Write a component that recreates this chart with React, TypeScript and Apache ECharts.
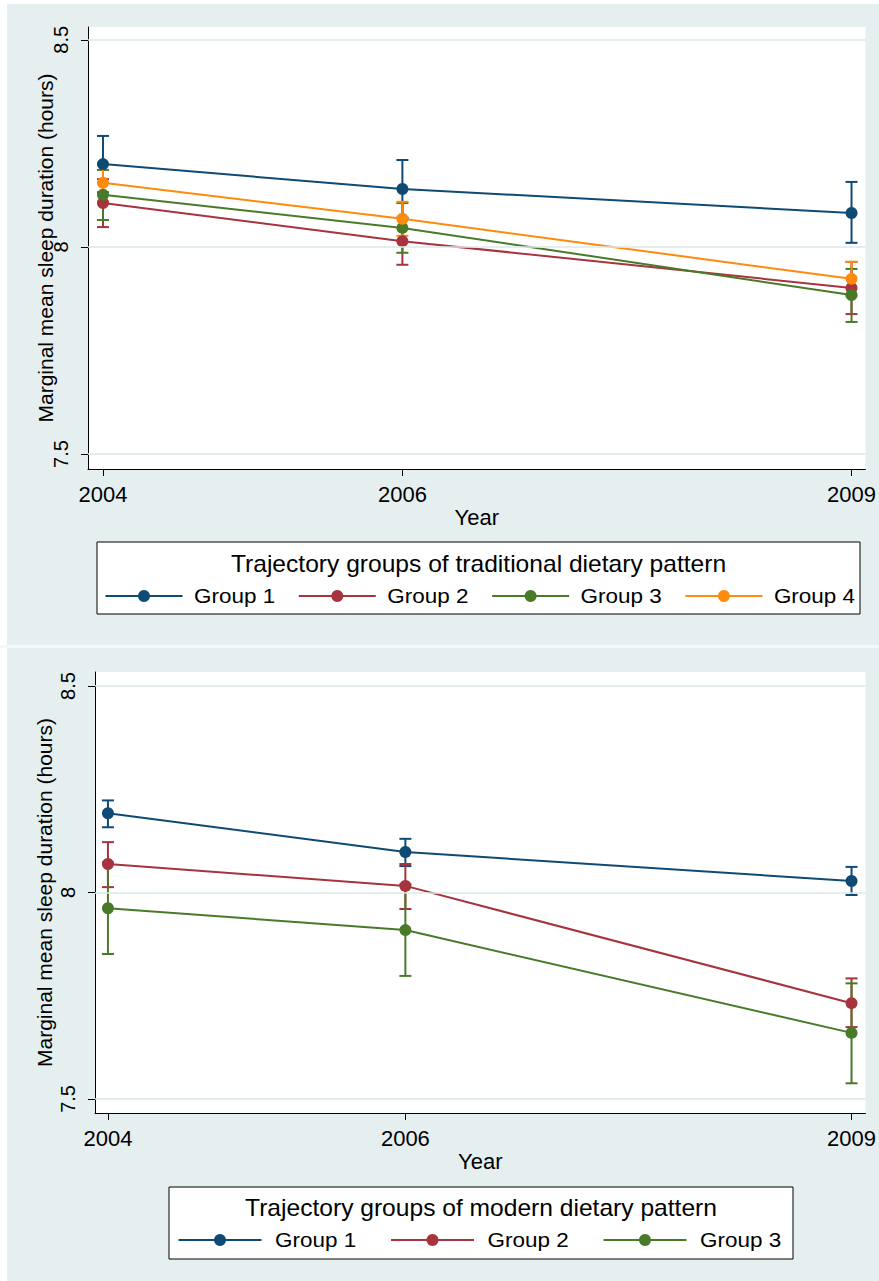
import React, { useEffect, useRef } from "react";
import * as echarts from "echarts";

// ---------- data ----------
const years = [2004, 2006, 2009];
const yTicks = [7.5, 8, 8.5];
const groupNames = ["Group 1", "Group 2", "Group 3", "Group 4"];
const groupColors = ["#0e4a74", "#a6333e", "#497a29", "#ff8a0c"];

// Panel 1: traditional dietary pattern
const tradTitle = "Trajectory groups of traditional dietary pattern";
const tradMean = [
  [8.2, 8.14, 8.082],
  [8.106, 8.014, 7.901],
  [8.126, 8.046, 7.884],
  [8.155, 8.068, 7.923],
];
const tradLower = [
  [8.132, 8.07, 8.01],
  [8.048, 7.957, 7.838],
  [8.065, 7.986, 7.819],
  [8.11, 8.027, 7.882],
];
const tradUpper = [
  [8.268, 8.21, 8.157],
  [8.164, 8.071, 7.964],
  [8.186, 8.106, 7.947],
  [8.2, 8.109, 7.964],
];

// Panel 2: modern dietary pattern
const modTitle = "Trajectory groups of modern dietary pattern";
const modMean = [
  [8.192, 8.098, 8.028],
  [8.069, 8.016, 7.732],
  [7.962, 7.909, 7.66],
];
const modLower = [
  [8.158, 8.064, 7.994],
  [8.013, 7.96, 7.674],
  [7.851, 7.798, 7.538],
];
const modUpper = [
  [8.223, 8.13, 8.062],
  [8.122, 8.069, 7.792],
  [8.073, 8.02, 7.78],
];

const yTitle = "Marginal mean sleep duration (hours)";
const xTitle = "Year";

// ---------- styles ----------
const FONT = "'Liberation Sans', Arial, Helvetica, sans-serif";
const PANEL_BG = "#e5efef";
const GRID_LINE = "#dde9e9";
const STRETCH = 1.07;

function buildAxes(gridIndex: number, xr: number[], yr: number[], yNameGap: number) {
  const x = {
    gridIndex,
    type: "value",
    min: xr[0],
    max: xr[1],
    axisLine: { show: true, onZero: false, lineStyle: { color: "#000", width: 1 } },
    axisTick: { show: true, length: 7, customValues: years, lineStyle: { color: "#000", width: 1 } },
    axisLabel: {
      customValues: years,
      margin: 14,
      fontSize: 22,
      color: "#000",
      fontFamily: FONT,
      formatter: (v: number) => String(v),
    },
    splitLine: { show: false },
    name: xTitle,
    nameLocation: "middle",
    nameGap: 37,
    nameMoveOverlap: false,
    nameTextStyle: { fontSize: 22, color: "#000", fontFamily: FONT },
  };
  const y = {
    gridIndex,
    type: "value",
    min: yr[0],
    max: yr[1],
    axisLine: { show: true, onZero: false, lineStyle: { color: "#000", width: 1 } },
    axisTick: { show: true, length: 7, customValues: yTicks, lineStyle: { color: "#000", width: 1 } },
    axisLabel: {
      customValues: yTicks,
      rotate: 90,
      margin: 17,
      fontSize: 20,
      color: "#000",
      fontFamily: FONT,
      formatter: (v: number) => String(v),
    },
    splitLine: { show: false },
    name: yTitle,
    nameLocation: "middle",
    nameRotate: 90,
    nameGap: yNameGap,
    nameMoveOverlap: false,
    nameTextStyle: { fontSize: 21, color: "#000", fontFamily: FONT },
  };
  return { x, y };
}

function buildSeries(gridIndex: number, mean: number[][], lower: number[][], upper: number[][]) {
  const series: any[] = [];
  // gridlines
  series.push({
    type: "line",
    xAxisIndex: gridIndex,
    yAxisIndex: gridIndex,
    data: [],
    z: 1,
    silent: true,
    markLine: {
      silent: true,
      symbol: ["none", "none"],
      label: { show: false },
      lineStyle: { color: GRID_LINE, width: 1.5, type: "solid" },
      data: yTicks.map((t) => ({ yAxis: t })),
    },
  });
  // confidence intervals
  mean.forEach((_, g) => {
    const color = groupColors[g];
    series.push({
      type: "custom",
      xAxisIndex: gridIndex,
      yAxisIndex: gridIndex,
      z: 2,
      encode: { x: 0, y: [1, 2] },
      data: years.map((yr, i) => [yr, lower[g][i], upper[g][i]]),
      renderItem: (params: any, api: any) => {
        const xv = api.value(0);
        const lo = api.coord([xv, api.value(1)]);
        const hi = api.coord([xv, api.value(2)]);
        const w = 6;
        const st = { stroke: color, lineWidth: 2 };
        return {
          type: "group",
          children: [
            { type: "line", shape: { x1: lo[0], y1: lo[1], x2: hi[0], y2: hi[1] }, style: st },
            { type: "line", shape: { x1: lo[0] - w, y1: lo[1], x2: lo[0] + w, y2: lo[1] }, style: st },
            { type: "line", shape: { x1: hi[0] - w, y1: hi[1], x2: hi[0] + w, y2: hi[1] }, style: st },
          ],
        };
      },
    });
  });
  // lines with markers
  mean.forEach((vals, g) => {
    series.push({
      type: "line",
      name: groupNames[g],
      xAxisIndex: gridIndex,
      yAxisIndex: gridIndex,
      z: 3,
      data: years.map((yr, i) => [yr, vals[i]]),
      symbol: "circle",
      symbolSize: 12,
      showSymbol: true,
      lineStyle: { color: groupColors[g], width: 2 },
      itemStyle: { color: groupColors[g] },
    });
  });
  return series;
}

function buildLegend(
  box: { x: number; y: number; w: number; h: number },
  title: string,
  titleY: number,
  itemY: number,
  n: number,
  firstMarker: number,
  step: number,
  halfLine: number,
  textOff: number
) {
  const els: any[] = [];
  els.push({
    type: "rect",
    shape: { x: box.x, y: box.y, width: box.w, height: box.h },
    style: { fill: "#fff", stroke: "#000", lineWidth: 1 },
    z: 10,
  });
  els.push({
    type: "text",
    x: box.x + box.w / 2,
    y: titleY,
    scaleX: STRETCH,
    style: {
      text: title,
      fontSize: 23,
      fontFamily: FONT,
      fill: "#000",
      align: "center",
      verticalAlign: "middle",
    },
    z: 11,
  });
  for (let g = 0; g < n; g++) {
    const cx = firstMarker + g * step;
    els.push({
      type: "line",
      shape: { x1: cx - halfLine, y1: itemY, x2: cx + halfLine, y2: itemY },
      style: { stroke: groupColors[g], lineWidth: 2 },
      z: 11,
    });
    els.push({
      type: "circle",
      shape: { cx, cy: itemY, r: 6 },
      style: { fill: groupColors[g] },
      z: 12,
    });
    els.push({
      type: "text",
      x: cx + textOff,
      y: itemY,
      scaleX: STRETCH,
      style: {
        text: groupNames[g],
        fontSize: 21,
        fontFamily: FONT,
        fill: "#000",
        align: "left",
        verticalAlign: "middle",
      },
      z: 11,
    });
  }
  return els;
}

export default function App() {
  const ref = useRef<HTMLDivElement>(null);
  useEffect(() => {
    if (!ref.current) return;
    const chart = echarts.init(ref.current, null, { renderer: "svg", width: 879, height: 1281 });
    const a1 = buildAxes(0, [2003.9, 2009.093], [7.464, 8.531], 32);
    const a2 = buildAxes(1, [2003.913, 2009.094], [7.466, 8.534], 40);
    const option: any = {
      animation: false,
      backgroundColor: PANEL_BG,
      grid: [
        { left: 88, top: 27, width: 780, height: 442, show: true, backgroundColor: "#fff", borderWidth: 0 },
        { left: 95, top: 672, width: 773, height: 441, show: true, backgroundColor: "#fff", borderWidth: 0 },
      ],
      xAxis: [a1.x, a2.x],
      yAxis: [a1.y, a2.y],
      series: [
        ...buildSeries(0, tradMean, tradLower, tradUpper),
        ...buildSeries(1, modMean, modLower, modUpper),
      ],
      graphic: [
        { type: "rect", shape: { x: 0, y: 0, width: 879, height: 4 }, style: { fill: "#fff" }, z: 5 },
        { type: "rect", shape: { x: 0, y: 0, width: 7, height: 1281 }, style: { fill: "#fff" }, z: 5 },
        { type: "rect", shape: { x: 0, y: 645, width: 879, height: 3 }, style: { fill: "#f4f8f8" }, z: 5 },
        ...buildLegend({ x: 97, y: 542, w: 763, h: 72 }, tradTitle, 564, 596, 4, 144, 193.3, 38.5, 50),
        ...buildLegend({ x: 169, y: 1187, w: 624, h: 72 }, modTitle, 1208, 1240, 3, 220, 212.5, 41.5, 55),
      ],
    };
    chart.setOption(option);
    return () => chart.dispose();
  }, []);
  return (
    <div
      ref={ref}
      style={{ position: "absolute", left: 0, top: 0, width: 879, height: 1281 }}
    />
  );
}
